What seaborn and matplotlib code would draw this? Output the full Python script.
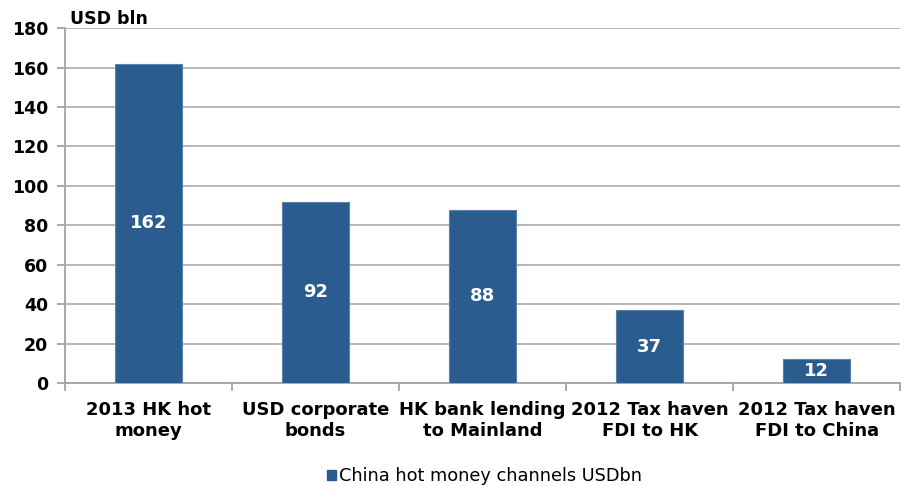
import matplotlib
matplotlib.use("Agg")
import matplotlib.pyplot as plt
import seaborn as sns
import pandas as pd
from matplotlib.patches import Patch

categories = ["2013 HK hot\nmoney", "USD corporate\nbonds", "HK bank lending\nto Mainland",
              "2012 Tax haven\nFDI to HK", "2012 Tax haven\nFDI to China"]
values = [162, 92, 88, 37, 12]
series_name = "China hot money channels USDbn"
yticks = [0, 20, 40, 60, 80, 100, 120, 140, 160, 180]

sns.set_style("white")
plt.rcParams['font.family'] = ['DejaVu Sans']
plt.rcParams['text.color'] = 'black'
plt.rcParams['xtick.labelcolor'] = 'black'
plt.rcParams['ytick.labelcolor'] = 'black'

df = pd.DataFrame({"cat": categories, "val": values, "series": series_name})
color = "#2B5C8F"
grid_color = "#A3A3A3"

fig = plt.figure(figsize=(9.06, 4.86), dpi=100)
ax = fig.add_axes([0.0717, 0.212, 0.922, 0.730])
sns.barplot(data=df, x="cat", y="val", color=color, saturation=1, width=0.4, ax=ax,
            edgecolor="#5B82AD", linewidth=0.8, zorder=3)
ax.set_ylim(0, 180)
ax.set_xlim(-0.5, len(categories) - 0.5)
ax.set_yticks(yticks)
ax.yaxis.grid(True, color=grid_color, linewidth=1.1, zorder=0)
ax.set_axisbelow(True)
for s in ["top", "right"]:
    ax.spines[s].set_visible(False)
for s in ["left", "bottom"]:
    ax.spines[s].set_color(grid_color)
    ax.spines[s].set_linewidth(1.3)
ax.tick_params(axis="y", which="major", length=6, width=1.3, color=grid_color,
               labelsize=12.5, pad=6, left=True)
for lbl in ax.get_yticklabels():
    lbl.set_fontweight("bold")
ax.set_xticks(range(len(categories)))
ax.set_xticklabels(categories, fontsize=13, fontweight="bold", linespacing=1.2)
ax.tick_params(axis="x", which="major", length=0, pad=13)
ax.set_xticks([i - 0.5 for i in range(len(categories) + 1)], minor=True)
ax.tick_params(axis="x", which="minor", length=6, width=1.3, color=grid_color, bottom=True)
ax.set_xlabel("")
ax.set_ylabel("")

for i, v in enumerate(values):
    ax.text(i, v / 2, str(v), ha="center", va="center", color="white",
            fontsize=13, fontweight="bold", zorder=5)

fig.text(0.077, 0.942, "USD bln", fontsize=12.5, fontweight="bold", ha="left", va="bottom")

handle = Patch(facecolor=color, edgecolor=color)
fig.legend([handle], [series_name], loc="center", bbox_to_anchor=(0.535, 0.02),
           frameon=False, fontsize=12.8, handlelength=0.5, handleheight=0.5,
           handletextpad=0.2)

fig.savefig("out.png", dpi=100)
